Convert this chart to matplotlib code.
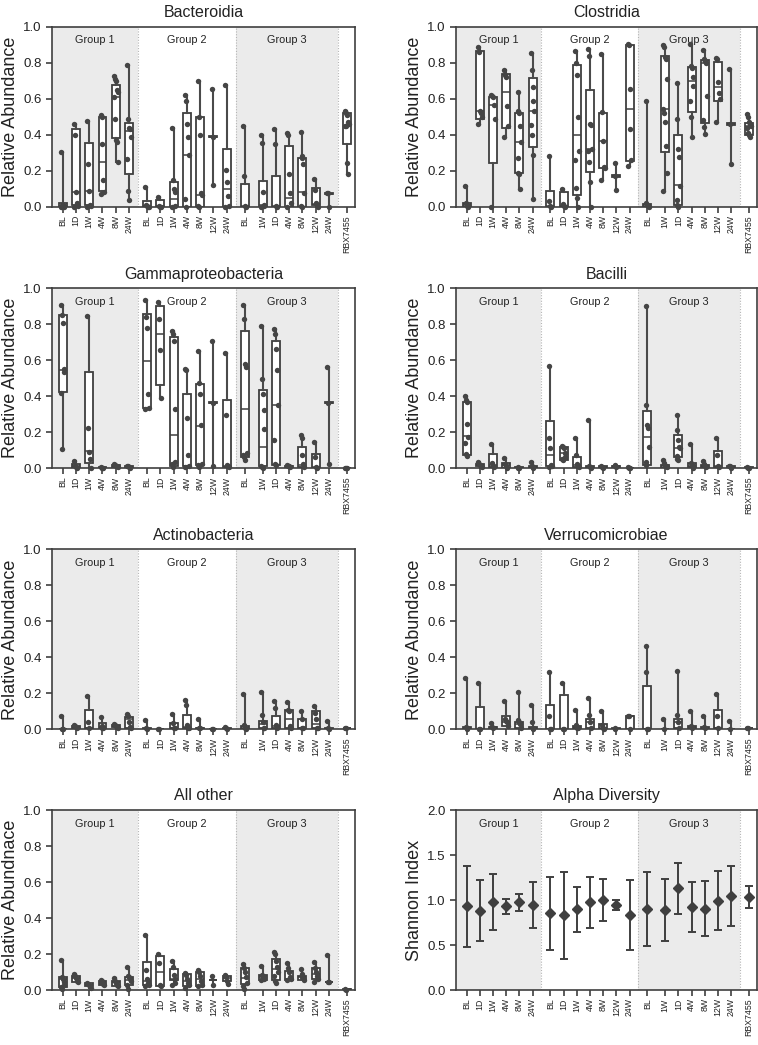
import matplotlib
matplotlib.use("Agg")
import matplotlib.pyplot as plt
import numpy as np

plt.rcParams['font.family'] = ['Liberation Sans', 'DejaVu Sans']

# %% data
TIMEPOINTS = ["BL", "1D", "1W", "4W", "8W", "24W",
              "BL", "1D", "1W", "4W", "8W", "12W", "24W",
              "BL", "1W", "1D", "4W", "8W", "12W", "24W",
              "RBX7455"]
GROUPS = ["Group 1", "Group 2", "Group 3"]
GROUP_SIZES = [6, 7, 7, 1]

# box stats per timepoint: (min, q1, median, q3, max)
BACT_BOX = [
    (0.0, 0.0, 0.005, 0.02, 0.305), (0.0, 0.01, 0.08, 0.43, 0.46),
    (0.0, 0.01, 0.09, 0.355, 0.475), (0.07, 0.085, 0.25, 0.50, 0.51),
    (0.25, 0.38, 0.61, 0.675, 0.725), (0.04, 0.18, 0.42, 0.465, 0.785),
    (0.0, 0.0, 0.005, 0.03, 0.11), (0.0, 0.0, 0.005, 0.04, 0.055),
    (0.0, 0.0, 0.045, 0.14, 0.435), (0.0, 0.0, 0.29, 0.52, 0.62),
    (0.0, 0.0, 0.065, 0.50, 0.70), (0.12, 0.385, 0.39, 0.395, 0.655),
    (0.0, 0.0, 0.10, 0.32, 0.675),
    (0.0, 0.0, 0.005, 0.125, 0.45), (0.0, 0.0, 0.01, 0.145, 0.40),
    (0.0, 0.0, 0.005, 0.17, 0.43), (0.0, 0.0, 0.05, 0.34, 0.41),
    (0.0, 0.0, 0.08, 0.27, 0.415), (0.0, 0.01, 0.015, 0.105, 0.155),
    (0.0, 0.07, 0.07, 0.075, 0.075),
    (0.18, 0.35, 0.45, 0.52, 0.53),
]
BACT_PTS = [
    [0.305, 0.012, 0.01, 0.005, 0.0, 0.0], [0.46, 0.40, 0.08, 0.02, 0.005, 0.0],
    [0.475, 0.24, 0.09, 0.01, 0.005, 0.0], [0.51, 0.50, 0.35, 0.15, 0.08, 0.07],
    [0.725, 0.71, 0.70, 0.65, 0.64, 0.61, 0.49, 0.37, 0.36, 0.25],
    [0.785, 0.49, 0.44, 0.43, 0.385, 0.265, 0.09, 0.04],
    [0.11, 0.01, 0.005, 0.0, 0.0], [0.055, 0.005, 0.0, 0.0],
    [0.435, 0.15, 0.10, 0.08, 0.005, 0.0], [0.62, 0.59, 0.46, 0.39, 0.29, 0.045, 0.0],
    [0.70, 0.50, 0.40, 0.075, 0.065, 0.005, 0.0], [0.655, 0.39, 0.12],
    [0.675, 0.205, 0.135, 0.06, 0.005, 0.0],
    [0.45, 0.17, 0.005, 0.0], [0.40, 0.355, 0.08, 0.01, 0.005, 0.0],
    [0.43, 0.35, 0.005, 0.0], [0.41, 0.40, 0.18, 0.075, 0.02, 0.0],
    [0.415, 0.28, 0.27, 0.235, 0.075, 0.005, 0.0], [0.155, 0.095, 0.02, 0.01, 0.0],
    [0.075, 0.075, 0.0],
    [0.53, 0.52, 0.51, 0.47, 0.46, 0.45, 0.45, 0.245, 0.18],
]

CLOS_BOX = [
    (0.0, 0.0, 0.01, 0.022, 0.115), (0.46, 0.49, 0.53, 0.865, 0.885),
    (0.0, 0.245, 0.565, 0.61, 0.62), (0.39, 0.44, 0.635, 0.74, 0.76),
    (0.10, 0.19, 0.36, 0.52, 0.64), (0.045, 0.33, 0.53, 0.715, 0.855),
    (0.0, 0.0, 0.005, 0.09, 0.28), (0.0, 0.0, 0.005, 0.08, 0.10),
    (0.0, 0.065, 0.40, 0.785, 0.865), (0.0, 0.195, 0.32, 0.65, 0.875),
    (0.15, 0.215, 0.365, 0.52, 0.85), (0.095, 0.165, 0.17, 0.175, 0.245),
    (0.225, 0.255, 0.545, 0.90, 0.905),
    (0.0, 0.0, 0.005, 0.015, 0.59), (0.085, 0.305, 0.545, 0.84, 0.90),
    (0.0, 0.01, 0.12, 0.40, 0.69), (0.385, 0.525, 0.70, 0.775, 0.905),
    (0.405, 0.465, 0.80, 0.815, 0.87), (0.47, 0.585, 0.665, 0.805, 0.825),
    (0.24, 0.455, 0.46, 0.465, 0.765),
    (0.39, 0.40, 0.45, 0.465, 0.515),
]
CLOS_PTS = [
    [0.115, 0.02, 0.01, 0.005, 0.0], [0.885, 0.86, 0.53, 0.52, 0.50, 0.46],
    [0.62, 0.615, 0.61, 0.565, 0.485, 0.0], [0.76, 0.73, 0.72, 0.56, 0.45, 0.39],
    [0.64, 0.53, 0.52, 0.45, 0.36, 0.27, 0.19, 0.18, 0.10],
    [0.855, 0.76, 0.665, 0.585, 0.53, 0.455, 0.40, 0.285, 0.045],
    [0.28, 0.03, 0.005, 0.0], [0.10, 0.015, 0.005, 0.0],
    [0.865, 0.80, 0.73, 0.50, 0.31, 0.26, 0.105, 0.05, 0.0],
    [0.875, 0.84, 0.46, 0.455, 0.32, 0.31, 0.25, 0.135, 0.0],
    [0.85, 0.525, 0.365, 0.22, 0.215, 0.15], [0.245, 0.17, 0.095],
    [0.905, 0.90, 0.655, 0.43, 0.26, 0.225],
    [0.59, 0.02, 0.01, 0.005, 0.0],
    [0.90, 0.89, 0.83, 0.82, 0.71, 0.545, 0.52, 0.47, 0.34, 0.19, 0.085],
    [0.69, 0.485, 0.32, 0.275, 0.115, 0.04, 0.01, 0.0],
    [0.905, 0.78, 0.77, 0.72, 0.67, 0.585, 0.50, 0.385],
    [0.87, 0.82, 0.81, 0.80, 0.615, 0.48, 0.445, 0.405],
    [0.825, 0.82, 0.695, 0.63, 0.60, 0.47], [0.765, 0.46, 0.24],
    [0.515, 0.50, 0.47, 0.46, 0.45, 0.44, 0.41, 0.40, 0.39],
]

GAMMA_BOX = [
    (0.105, 0.425, 0.545, 0.85, 0.905), (0.0, 0.0, 0.01, 0.025, 0.04),
    (0.0, 0.03, 0.095, 0.535, 0.845), (0.0, 0.0, 0.002, 0.005, 0.005),
    (0.005, 0.005, 0.01, 0.02, 0.025), (0.0, 0.0, 0.005, 0.01, 0.015),
    (0.33, 0.335, 0.595, 0.86, 0.935), (0.39, 0.46, 0.745, 0.90, 0.925),
    (0.005, 0.015, 0.185, 0.73, 0.765), (0.0, 0.01, 0.015, 0.41, 0.55),
    (0.005, 0.02, 0.235, 0.47, 0.65), (0.01, 0.36, 0.365, 0.37, 0.71),
    (0.0, 0.005, 0.015, 0.38, 0.64),
    (0.045, 0.065, 0.33, 0.765, 0.905), (0.0, 0.01, 0.12, 0.435, 0.79),
    (0.02, 0.02, 0.35, 0.705, 0.775), (0.005, 0.005, 0.01, 0.015, 0.02),
    (0.005, 0.005, 0.02, 0.12, 0.185), (0.0, 0.0, 0.005, 0.08, 0.145),
    (0.025, 0.36, 0.365, 0.37, 0.56),
    (0.0, 0.0, 0.001, 0.002, 0.003),
]
GAMMA_PTS = [
    [0.905, 0.85, 0.805, 0.55, 0.535, 0.42, 0.105], [0.04, 0.015, 0.005, 0.0],
    [0.845, 0.225, 0.09, 0.05, 0.0], [0.005, 0.003, 0.0, 0.0],
    [0.025, 0.02, 0.015, 0.01, 0.005], [0.015, 0.01, 0.005, 0.0],
    [0.935, 0.84, 0.78, 0.415, 0.335, 0.33], [0.925, 0.83, 0.655, 0.39],
    [0.765, 0.745, 0.71, 0.33, 0.035, 0.025, 0.005],
    [0.55, 0.545, 0.28, 0.075, 0.015, 0.005],
    [0.65, 0.475, 0.415, 0.24, 0.025, 0.02, 0.005], [0.71, 0.365, 0.01],
    [0.64, 0.295, 0.02, 0.01, 0.005],
    [0.905, 0.83, 0.58, 0.565, 0.085, 0.075, 0.065, 0.045],
    [0.79, 0.495, 0.41, 0.325, 0.22, 0.015, 0.005, 0.0],
    [0.775, 0.745, 0.665, 0.545, 0.35, 0.155, 0.025, 0.02],
    [0.02, 0.015, 0.01, 0.005], [0.185, 0.17, 0.075, 0.025, 0.005],
    [0.145, 0.06, 0.005, 0.0], [0.56, 0.365, 0.025],
    [0.003, 0.001, 0.0],
]

BACI_BOX = [
    (0.07, 0.075, 0.18, 0.37, 0.40), (0.005, 0.01, 0.02, 0.025, 0.035),
    (0.005, 0.005, 0.02, 0.08, 0.135), (0.0, 0.0, 0.02, 0.03, 0.055),
    (0.0, 0.0, 0.002, 0.005, 0.005), (0.0, 0.0, 0.005, 0.01, 0.035),
    (0.005, 0.01, 0.075, 0.265, 0.57), (0.045, 0.045, 0.085, 0.12, 0.125),
    (0.005, 0.005, 0.02, 0.06, 0.17), (0.0, 0.0, 0.005, 0.015, 0.27),
    (0.0, 0.0, 0.005, 0.01, 0.01), (0.005, 0.005, 0.01, 0.015, 0.02),
    (0.0, 0.0, 0.002, 0.004, 0.005),
    (0.02, 0.02, 0.175, 0.32, 0.90), (0.0, 0.0, 0.01, 0.02, 0.045),
    (0.045, 0.065, 0.11, 0.185, 0.295), (0.0, 0.005, 0.01, 0.03, 0.135),
    (0.005, 0.005, 0.01, 0.02, 0.04), (0.005, 0.005, 0.01, 0.095, 0.17),
    (0.0, 0.0, 0.005, 0.01, 0.015),
    (0.0, 0.0, 0.003, 0.005, 0.005),
]
BACI_PTS = [
    [0.40, 0.38, 0.37, 0.245, 0.175, 0.14, 0.08, 0.07], [0.035, 0.025, 0.02, 0.01, 0.005],
    [0.135, 0.03, 0.015, 0.005], [0.055, 0.025, 0.01, 0.0],
    [0.005, 0.003, 0.0], [0.035, 0.01, 0.005, 0.0],
    [0.57, 0.17, 0.11, 0.02, 0.01, 0.005], [0.125, 0.12, 0.11, 0.085, 0.065, 0.05, 0.045],
    [0.17, 0.075, 0.025, 0.01, 0.005], [0.27, 0.015, 0.005, 0.0],
    [0.01, 0.005, 0.0], [0.02, 0.015, 0.005], [0.005, 0.002, 0.0],
    [0.90, 0.35, 0.24, 0.225, 0.12, 0.035, 0.02], [0.045, 0.03, 0.015, 0.01, 0.005],
    [0.295, 0.215, 0.155, 0.12, 0.11, 0.07, 0.05, 0.045],
    [0.135, 0.03, 0.02, 0.01, 0.0], [0.04, 0.025, 0.015, 0.005],
    [0.17, 0.075, 0.01, 0.005], [0.015, 0.01, 0.0],
    [0.005, 0.002, 0.0],
]

ACTI_BOX = [
    (0.0, 0.0, 0.0, 0.003, 0.075), (0.01, 0.01, 0.015, 0.02, 0.025),
    (0.005, 0.005, 0.01, 0.11, 0.185), (0.005, 0.005, 0.015, 0.035, 0.07),
    (0.01, 0.012, 0.02, 0.025, 0.03), (0.005, 0.01, 0.06, 0.07, 0.085),
    (0.0, 0.0, 0.003, 0.005, 0.05), (0.0, 0.0, 0.0, 0.002, 0.002),
    (0.005, 0.005, 0.01, 0.035, 0.085), (0.005, 0.005, 0.015, 0.08, 0.165),
    (0.0, 0.0, 0.005, 0.01, 0.055), (0.0, 0.0, 0.0, 0.002, 0.002),
    (0.0, 0.0, 0.003, 0.005, 0.015),
    (0.0, 0.0, 0.005, 0.02, 0.195), (0.005, 0.005, 0.03, 0.045, 0.21),
    (0.01, 0.01, 0.02, 0.075, 0.16), (0.005, 0.005, 0.06, 0.105, 0.15),
    (0.005, 0.005, 0.005, 0.055, 0.10), (0.005, 0.005, 0.03, 0.10, 0.13),
    (0.0, 0.0, 0.003, 0.005, 0.045),
    (0.005, 0.005, 0.007, 0.01, 0.01),
]
ACTI_PTS = [
    [0.075, 0.0, 0.0], [0.025, 0.02, 0.015, 0.01], [0.185, 0.04, 0.005],
    [0.07, 0.02, 0.01, 0.005], [0.03, 0.025, 0.02, 0.015, 0.01],
    [0.085, 0.075, 0.04, 0.015, 0.005],
    [0.05, 0.005, 0.0], [0.002, 0.0], [0.085, 0.035, 0.01, 0.005],
    [0.165, 0.135, 0.025, 0.01, 0.005], [0.055, 0.01, 0.005], [0.002, 0.0],
    [0.015, 0.005, 0.0],
    [0.195, 0.025, 0.01, 0.0], [0.21, 0.08, 0.04, 0.01, 0.005],
    [0.16, 0.12, 0.025, 0.01], [0.15, 0.11, 0.10, 0.02, 0.005],
    [0.10, 0.06, 0.01, 0.005], [0.13, 0.09, 0.055, 0.01, 0.005],
    [0.045, 0.005, 0.0],
    [0.01, 0.005],
]

VERR_BOX = [
    (0.0, 0.0, 0.005, 0.015, 0.285), (0.0, 0.0, 0.0, 0.125, 0.255),
    (0.01, 0.01, 0.012, 0.015, 0.035), (0.02, 0.02, 0.04, 0.075, 0.16),
    (0.01, 0.01, 0.03, 0.04, 0.21), (0.0, 0.0, 0.01, 0.015, 0.135),
    (0.0, 0.0, 0.0, 0.135, 0.32), (0.0, 0.0, 0.0, 0.19, 0.255),
    (0.005, 0.005, 0.01, 0.02, 0.105), (0.01, 0.01, 0.04, 0.06, 0.175),
    (0.0, 0.0, 0.01, 0.03, 0.10), (0.0, 0.0, 0.002, 0.005, 0.005),
    (0.0, 0.0, 0.075, 0.075, 0.075),
    (0.0, 0.0, 0.0, 0.24, 0.465), (0.0, 0.0, 0.0, 0.002, 0.06),
    (0.005, 0.005, 0.04, 0.06, 0.325), (0.01, 0.01, 0.015, 0.02, 0.10),
    (0.005, 0.005, 0.01, 0.015, 0.075), (0.005, 0.005, 0.01, 0.105, 0.195),
    (0.0, 0.0, 0.0, 0.002, 0.045),
    (0.005, 0.005, 0.007, 0.01, 0.01),
]
VERR_PTS = [
    [0.285, 0.015, 0.005, 0.0], [0.255, 0.0, 0.0], [0.035, 0.015, 0.01],
    [0.16, 0.055, 0.045, 0.04, 0.02], [0.21, 0.05, 0.04, 0.03, 0.01],
    [0.135, 0.04, 0.01, 0.0],
    [0.32, 0.075, 0.0, 0.0], [0.255, 0.0, 0.0], [0.105, 0.025, 0.01, 0.005],
    [0.175, 0.08, 0.04, 0.01], [0.10, 0.025, 0.01, 0.0], [0.005, 0.0],
    [0.075, 0.075, 0.0],
    [0.465, 0.32, 0.0, 0.0], [0.06, 0.0], [0.325, 0.08, 0.04, 0.005],
    [0.10, 0.02, 0.01], [0.075, 0.015, 0.005], [0.195, 0.075, 0.005],
    [0.045, 0.0],
    [0.01, 0.005],
]

OTHER_BOX = [
    (0.005, 0.015, 0.06, 0.075, 0.165), (0.045, 0.045, 0.065, 0.08, 0.09),
    (0.01, 0.02, 0.03, 0.04, 0.04), (0.03, 0.03, 0.04, 0.05, 0.055),
    (0.02, 0.025, 0.045, 0.05, 0.065), (0.005, 0.03, 0.055, 0.07, 0.13),
    (0.02, 0.03, 0.05, 0.155, 0.305), (0.02, 0.025, 0.10, 0.19, 0.20),
    (0.03, 0.055, 0.06, 0.115, 0.16), (0.01, 0.02, 0.05, 0.09, 0.095),
    (0.025, 0.025, 0.06, 0.10, 0.11), (0.03, 0.053, 0.055, 0.057, 0.08),
    (0.035, 0.05, 0.065, 0.08, 0.085),
    (0.005, 0.035, 0.065, 0.12, 0.145), (0.055, 0.055, 0.07, 0.085, 0.135),
    (0.04, 0.055, 0.115, 0.17, 0.21), (0.055, 0.055, 0.06, 0.105, 0.15),
    (0.055, 0.055, 0.07, 0.08, 0.115), (0.045, 0.06, 0.09, 0.12, 0.155),
    (0.045, 0.045, 0.045, 0.047, 0.195),
    (0.0, 0.0, 0.003, 0.005, 0.005),
]
OTHER_PTS = [
    [0.165, 0.075, 0.06, 0.045, 0.03, 0.015, 0.005], [0.09, 0.08, 0.065, 0.05, 0.045],
    [0.04, 0.035, 0.03, 0.02, 0.01], [0.055, 0.05, 0.04, 0.035, 0.03],
    [0.065, 0.05, 0.04, 0.03, 0.02], [0.13, 0.08, 0.07, 0.06, 0.05, 0.03, 0.005],
    [0.305, 0.11, 0.06, 0.04, 0.03, 0.02], [0.20, 0.15, 0.03, 0.02],
    [0.16, 0.13, 0.085, 0.06, 0.04, 0.03], [0.095, 0.085, 0.06, 0.04, 0.03, 0.01],
    [0.11, 0.10, 0.08, 0.05, 0.03, 0.025], [0.08, 0.03], [0.085, 0.075, 0.05, 0.035],
    [0.145, 0.12, 0.10, 0.07, 0.04, 0.02, 0.005], [0.135, 0.085, 0.08, 0.07, 0.06, 0.055],
    [0.21, 0.20, 0.16, 0.13, 0.10, 0.08, 0.05, 0.04],
    [0.15, 0.125, 0.10, 0.07, 0.06, 0.055], [0.115, 0.09, 0.075, 0.065, 0.055],
    [0.155, 0.12, 0.10, 0.08, 0.06, 0.045], [0.195, 0.045, 0.045],
    [0.005, 0.0],
]

SHANNON_MEAN = [0.93, 0.88, 0.98, 0.93, 0.98, 0.945,
                0.855, 0.83, 0.90, 0.98, 1.0, 0.945, 0.83,
                0.90, 0.885, 1.13, 0.92, 0.905, 0.99, 1.045,
                1.035]
SHANNON_LO = [0.48, 0.54, 0.67, 0.845, 0.88, 0.69,
              0.45, 0.35, 0.645, 0.695, 0.77, 0.89, 0.44,
              0.49, 0.545, 0.845, 0.645, 0.60, 0.665, 0.715,
              0.915]
SHANNON_HI = [1.38, 1.22, 1.29, 1.01, 1.07, 1.20,
              1.26, 1.31, 1.15, 1.26, 1.235, 1.005, 1.225,
              1.31, 1.23, 1.415, 1.20, 1.215, 1.32, 1.375,
              1.16]

# %% layout
DARK = '#3f3f3f'
SHADE = '#ebebeb'

# x positions: unit step inside a group, wider step between groups
# (the plotted group 3 also has a wider step after its BL)
steps = []
for gi, n in enumerate(GROUP_SIZES):
    steps += [1.0] * (n - 1) + [1.35]
steps[13] = 1.35
pos = np.concatenate([[0.0], np.cumsum(steps[:-1])])
grp_end = np.cumsum(GROUP_SIZES)
bounds = [-0.8]
for e in grp_end[:-1]:
    bounds.append((pos[e - 1] + pos[e]) / 2)
bounds.append(22.0)

fig = plt.figure(figsize=(7.58, 10.45), dpi=100)
col_left = [0.0686, 0.6016]
col_w = [0.3997, 0.397]
row_bottom = [0.8022, 0.5519, 0.3021, 0.0526]
row_h = 0.1722


def style_axes(ax, title, ylabel, ymax, yticks):
    ax.set_xlim(bounds[0], bounds[-1])
    ax.set_ylim(0, ymax)
    for i in range(3):
        if i != 1:
            ax.axvspan(bounds[i], bounds[i + 1], color=SHADE, zorder=0, lw=0)
        lab_x = (bounds[i] + bounds[i + 1]) / 2
        ax.text(lab_x, 0.925, GROUPS[i], transform=ax.get_xaxis_transform(),
                ha='center', va='center', fontsize=7.8, color='#222222')
    for b in bounds[1:-1]:
        ax.axvline(b, color='#b5b5b5', lw=0.8, ls=(0, (1, 1.5)), zorder=0.5)
    for s in ax.spines.values():
        s.set_color(DARK)
        s.set_linewidth(1.2)
    ax.set_xticks(pos)
    ax.set_xticklabels(TIMEPOINTS, rotation=90, fontsize=6.3)
    ax.set_yticks(yticks)
    ax.set_yticklabels([f'{t:.1f}' for t in yticks], fontsize=9.5)
    ax.tick_params(axis='both', direction='out', length=4, width=1.2,
                   color=DARK, labelcolor='#222222')
    ax.tick_params(axis='x', pad=2)
    ax.set_title(title, fontsize=11.5, pad=7, color='#222222')
    ax.set_ylabel(ylabel, fontsize=13, labelpad=3, color='#222222')


def box_panel(ax, title, ylabel, box, pts):
    style_axes(ax, title, ylabel, 1.0, np.arange(0, 1.01, 0.2))
    stats = [dict(whislo=b[0], q1=b[1], med=b[2], q3=b[3], whishi=b[4], fliers=[])
             for b in box]
    ax.bxp(stats, positions=pos, widths=0.6, showcaps=False, showfliers=False,
           patch_artist=True,
           boxprops=dict(facecolor='white', edgecolor=DARK, linewidth=1.3),
           medianprops=dict(color=DARK, linewidth=1.1),
           whiskerprops=dict(color='#4a4a4a', linewidth=1.5), manage_ticks=False)
    for x, vals in zip(pos, pts):
        offs = np.array([((k % 5) - 2) * 0.07 for k in range(len(vals))])
        ax.scatter(x + offs, vals, s=15, color='#454545', zorder=4,
                   clip_on=False, linewidths=0)


panels = [
    ("Bacteroidia", "Relative Abundance", BACT_BOX, BACT_PTS),
    ("Clostridia", "Relative Abundance", CLOS_BOX, CLOS_PTS),
    ("Gammaproteobacteria", "Relative Abundance", GAMMA_BOX, GAMMA_PTS),
    ("Bacilli", "Relative Abundance", BACI_BOX, BACI_PTS),
    ("Actinobacteria", "Relative Abundance", ACTI_BOX, ACTI_PTS),
    ("Verrucomicrobiae", "Relative Abundance", VERR_BOX, VERR_PTS),
    ("All other", "Relative Abundnace", OTHER_BOX, OTHER_PTS),
]

for k, (title, ylab, box, pts) in enumerate(panels):
    r, c = divmod(k, 2)
    ax = fig.add_axes([col_left[c], row_bottom[r], col_w[c], row_h])
    box_panel(ax, title, ylab, box, pts)

# %% alpha diversity
ax = fig.add_axes([col_left[1], row_bottom[3], col_w[1], row_h])
style_axes(ax, "Alpha Diversity", "Shannon Index", 2.0, np.arange(0, 2.01, 0.5))
mean = np.array(SHANNON_MEAN)
yerr = [mean - np.array(SHANNON_LO), np.array(SHANNON_HI) - mean]
ax.errorbar(pos, mean, yerr=yerr, fmt='D', color=DARK, ms=5.5, capsize=3.2,
            elinewidth=1.4, capthick=1.4, zorder=3)

fig.savefig('out.png', dpi=100)
